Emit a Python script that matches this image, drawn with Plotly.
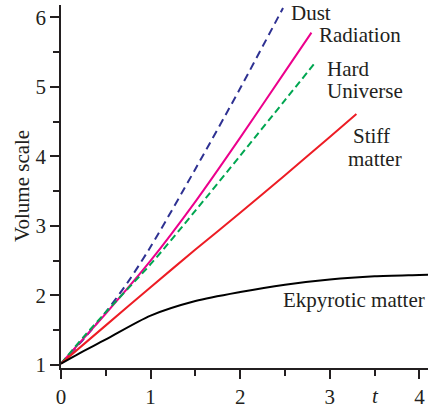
import plotly.graph_objects as go

# Data
dust_t = [0, 0.25, 0.5, 0.75, 1.0, 1.5, 2.0, 2.478]
dust_v = [1.02, 1.37, 1.76, 2.20, 2.70, 3.82, 4.98, 6.135]

rad_t = [0, 0.25, 0.5, 1.0, 1.5, 2.0, 2.5, 2.795]
rad_v = [1.02, 1.38, 1.74, 2.50, 3.35, 4.27, 5.22, 5.78]

hard_t = [0, 0.25, 0.5, 1.0, 1.5, 2.0, 2.5, 2.85]
hard_v = [1.02, 1.40, 1.76, 2.45, 3.22, 4.01, 4.81, 5.37]

stiff_t = [0, 0.5, 1.0, 1.5, 2.0, 2.5, 3.0, 3.297]
stiff_v = [1.02, 1.57, 2.12, 2.66, 3.19, 3.73, 4.28, 4.61]

ekp_t = [0, 0.2, 0.49, 1.0, 1.5, 2.0, 2.5, 3.0, 3.5, 4.0, 4.1]
ekp_v = [1.02, 1.165, 1.36, 1.71, 1.92, 2.05, 2.155, 2.23, 2.275, 2.295, 2.30]

x_ticks = [0, 1, 2, 3, 4]
y_ticks = [1, 2, 3, 4, 5, 6]

FONT = "Liberation Serif, Times New Roman, DejaVu Serif, serif"
TXT = "#231F20"
FS = 21

fig = go.Figure()
fig.add_trace(go.Scatter(x=dust_t, y=dust_v, mode="lines", line=dict(color="#2E3192", width=2, dash="8px,5px", shape="spline", smoothing=0.8)))
fig.add_trace(go.Scatter(x=rad_t, y=rad_v, mode="lines", line=dict(color="#EC008C", width=2, shape="spline", smoothing=0.8)))
fig.add_trace(go.Scatter(x=hard_t, y=hard_v, mode="lines", line=dict(color="#00A651", width=2, dash="7px,4px", shape="spline", smoothing=0.8)))
fig.add_trace(go.Scatter(x=stiff_t, y=stiff_v, mode="lines", line=dict(color="#ED1C24", width=2, shape="spline", smoothing=0.8)))
fig.add_trace(go.Scatter(x=ekp_t, y=ekp_v, mode="lines", line=dict(color="#000000", width=2, shape="spline", smoothing=0.8)))

font = dict(family=FONT, size=FS, color=TXT)
def label(x, y, text, xanchor="left"):
    fig.add_annotation(x=x, y=y, text=text, xanchor=xanchor, yanchor="middle", font=font, showarrow=False)

label(2.54, 6.07, "Dust")
label(2.855, 5.745, "Radiation")
label(2.946, 5.26, "Hard")
label(2.946, 4.94, "Universe")
label(3.47, 4.29, "Stiff", "center")
label(3.507, 3.96, "matter", "center")
label(2.45, 1.94, "Ekpyrotic matter")

fig.add_annotation(x=3.51, y=-0.115, yref="paper", text="<i>t</i>", xanchor="center", yanchor="bottom",
                   font=font, showarrow=False)
fig.add_annotation(x=-0.108, xref="paper", y=3.58, text="Volume scale", textangle=-90, showarrow=False,
                   xanchor="center", yanchor="middle", font=font)

axis_common = dict(showgrid=False, zeroline=False, showline=True, linecolor="#231F20", linewidth=1.5,
                   ticks="outside", ticklen=9, tickwidth=1.5, tickcolor="#231F20",
                   tickfont=dict(family=FONT, size=FS, color=TXT),
                   minor=dict(dtick=0.5, ticks="outside", ticklen=6, tickwidth=1.5, tickcolor="#231F20"))

fig.update_xaxes(range=[0, 4.096], tickvals=x_ticks, **axis_common)
fig.update_yaxes(range=[0.957, 6.178], tickvals=y_ticks, **axis_common)

fig.update_layout(width=428, height=409, margin=dict(l=61, r=0, t=5, b=38),
                  plot_bgcolor="white", paper_bgcolor="white", showlegend=False)

fig.write_html("out.html")
